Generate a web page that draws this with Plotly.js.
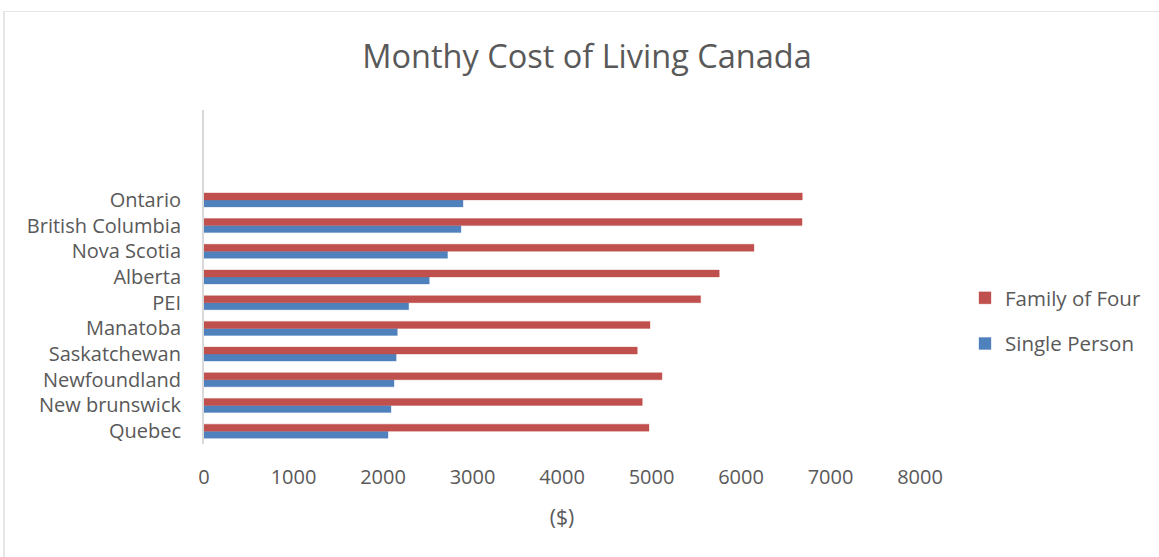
<!DOCTYPE html>
<html>
<head>
<meta charset="utf-8">
<script src="https://cdn.plot.ly/plotly-3.0.1.min.js"></script>
<style>
  html, body { margin: 0; padding: 0; background: #ffffff; }
  #chart { position: absolute; left: 0; top: 0; width: 1159px; height: 557px; }
  .frame-top { position: absolute; left: 3px; top: 11px; width: 1156px; height: 1px; background: #e6e6e6; z-index: 5; }
  .frame-left { position: absolute; left: 3px; top: 11px; width: 2px; height: 546px; background: #e6e6e6; z-index: 5; }
</style>
</head>
<body>
<div id="chart"></div>
<div class="frame-top"></div>
<div class="frame-left"></div>
<script>
const provinces = ['Quebec', 'New brunswick', 'Newfoundland', 'Saskatchewan', 'Manatoba', 'PEI', 'Alberta', 'Nova Scotia', 'British Columbia', 'Ontario'];
const singlePerson = [2056, 2089, 2123, 2147, 2160, 2287, 2517, 2721, 2871, 2894];
const familyOfFour = [4972, 4897, 5117, 4841, 4983, 5549, 5757, 6145, 6682, 6685];
const xTicks = [0, 1000, 2000, 3000, 4000, 5000, 6000, 7000, 8000];

const FONT = 'Open Sans, Noto Sans, sans-serif';
const GREY = '#595959';

const traces = [
  {
    type: 'bar', orientation: 'h', name: 'Single Person',
    y: provinces, x: singlePerson,
    marker: { color: '#4F81BD', line: { color: 'rgba(79,129,189,0.35)', width: 1 } },
    legendgroup: 'b', legendrank: 2, hoverinfo: 'x+y'
  },
  {
    type: 'bar', orientation: 'h', name: 'Family of Four',
    y: provinces, x: familyOfFour,
    marker: { color: '#C0504D', line: { color: 'rgba(192,80,77,0.35)', width: 1 } },
    legendgroup: 'a', legendrank: 1, hoverinfo: 'x+y'
  }
];

const layout = {
  width: 1159, height: 557,
  paper_bgcolor: '#ffffff', plot_bgcolor: '#ffffff',
  margin: { l: 204, r: 239, t: 110, b: 113, pad: 0 },
  font: { family: FONT, color: GREY, size: 20 },
  title: {
    text: 'Monthy Cost of Living Canada',
    font: { family: FONT, size: 32.5, color: GREY },
    x: 587 / 1159, xref: 'container', xanchor: 'center',
    y: 1 - 57 / 557, yref: 'container', yanchor: 'middle'
  },
  barmode: 'group', bargap: 0.455, bargroupgap: 0,
  xaxis: {
    range: [0, 8000], tickvals: xTicks, ticktext: xTicks.map(String),
    showgrid: false, zeroline: false, showline: false,
    ticks: 'outside', ticklen: 15, tickcolor: 'rgba(0,0,0,0)',
    tickfont: { family: FONT, size: 20, color: GREY },
    title: { text: '($)', font: { family: FONT, size: 21, color: GREY }, standoff: 21 },
    fixedrange: true
  },
  yaxis: {
    type: 'category', categoryorder: 'array', categoryarray: provinces,
    range: [-0.5, 12.5],
    showgrid: false, zeroline: false,
    showline: true, linecolor: '#D9D9D9', linewidth: 2,
    ticks: 'outside', ticklen: 17, tickcolor: 'rgba(0,0,0,0)',
    tickfont: { family: FONT, size: 20, color: GREY },
    fixedrange: true
  },
  showlegend: true,
  legend: {
    x: (965 - 204) / 716, xanchor: 'left',
    y: (444 - 278) / 334, yanchor: 'top',
    traceorder: 'grouped', tracegroupgap: 16,
    font: { family: FONT, size: 20.5, color: GREY },
    bgcolor: 'rgba(0,0,0,0)'
  }
};

Plotly.newPlot('chart', traces, layout, { displayModeBar: false, staticPlot: true });
</script>
</body>
</html>
